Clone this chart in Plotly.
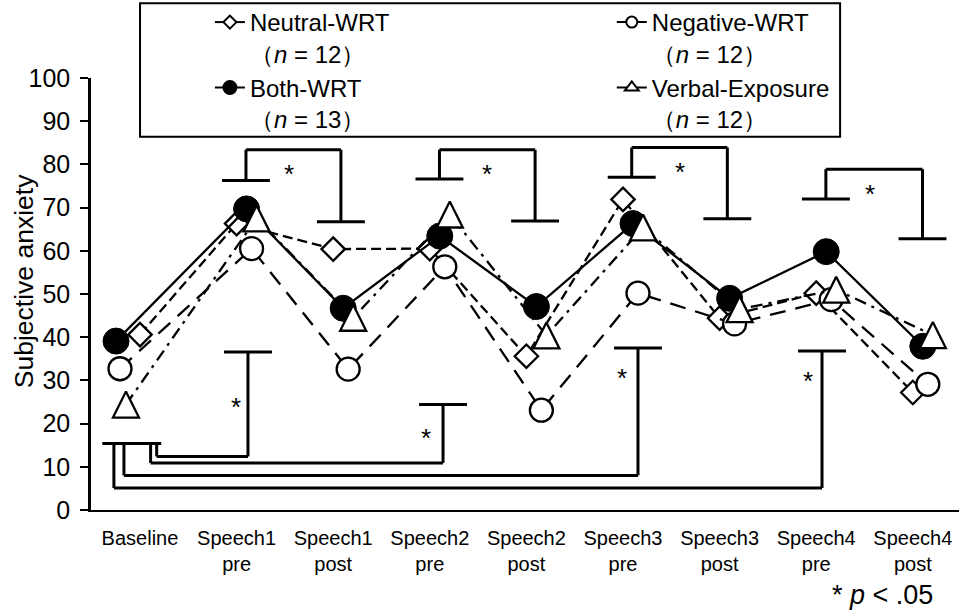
import plotly.graph_objects as go

# ---- data -------------------------------------------------------------
categories = ["Baseline", "Speech1<br>pre", "Speech1<br>post", "Speech2<br>pre",
              "Speech2<br>post", "Speech3<br>pre", "Speech3<br>post",
              "Speech4<br>pre", "Speech4<br>post"]

neutral_wrt = [40.6, 66.3, 60.4, 60.5, 35.6, 71.9, 44.4, 50.2, 27.2]
negative_wrt = [32.7, 60.5, 32.6, 56.3, 23.1, 50.2, 43.1, 48.7, 29.1]
both_wrt = [39.1, 69.7, 46.7, 63.4, 47.1, 66.3, 49.0, 59.8, 37.9]
verbal_exposure = [24.4, 67.5, 44.5, 68.4, 40.4, 65.4, 46.5, 51.0, 40.5]

series_names = ["Neutral-WRT", "Negative-WRT", "Both-WRT", "Verbal-Exposure"]
group_n = [12, 12, 13, 12]
series_values = [neutral_wrt, negative_wrt, both_wrt, verbal_exposure]

y_ticks = [0, 10, 20, 30, 40, 50, 60, 70, 80, 90, 100]

# ---- styles -----------------------------------------------------------
FONT = "Liberation Sans, Arial, sans-serif"
LW = 2.3
styles = [
    dict(dash="10px,5px", symbol="diamond", size=18, fill="white",
         base_off=0.0, off=0.0, leg_symbol="diamond", leg_size=10, legend="legend"),
    dict(dash="16px,10px", symbol="circle", size=23, fill="white",
         base_off=-0.207, off=0.155, leg_symbol="circle", leg_size=11, legend="legend2"),
    dict(dash="solid", symbol="circle", size=26, fill="black",
         base_off=-0.248, off=0.1035, leg_symbol="circle", leg_size=13, legend="legend"),
    dict(dash="12px,6px,3px,6px", symbol="arrow-down", size=26, fill="white",
         base_off=-0.145, off=0.207, leg_symbol="triangle-up", leg_size=12, legend="legend2"),
]

fig = go.Figure()

for name, n, vals, st in zip(series_names, group_n, series_values, styles):
    xs = [i + (st["base_off"] if i == 0 else st["off"]) for i in range(len(vals))]
    marker = dict(symbol=st["symbol"], size=st["size"], color=st["fill"],
                  line=dict(color="black", width=LW if st["fill"] == "white" else 1))
    if st["symbol"] == "arrow-down":
        # rotated arrow head, shifted so it is centred on the value
        marker.update(angle=180, standoff=st["size"] / 2)
    fig.add_trace(go.Scatter(
        x=xs, y=vals, mode="lines+markers", name=name, showlegend=False,
        line=dict(color="black", width=LW, dash=st["dash"]),
        marker=marker, cliponaxis=False,
    ))

# legend keys (two columns: Neutral / Both and Negative / Verbal)
for key in (0, 2, 1, 3):
    name, n, st = series_names[key], group_n[key], styles[key]
    fig.add_trace(go.Scatter(
        x=[None], y=[None], mode="lines+markers", legend=st["legend"],
        name=f"{name}<br>（<i>n</i> = {n}）",
        line=dict(color="black", width=2),
        marker=dict(symbol=st["leg_symbol"], size=st["leg_size"], color=st["fill"],
                    line=dict(color="black", width=2)),
    ))

# ---- significance brackets -------------------------------------------
shapes = []
annotations = []
BW = 3
CAP = 0.248


def seg(x0, y0, x1, y1):
    shapes.append(dict(type="line", xref="x", yref="y", x0=x0, y0=y0, x1=x1, y1=y1,
                       line=dict(color="black", width=BW)))


def star(x, y):
    annotations.append(dict(x=x, y=y, xref="x", yref="y", text="*", showarrow=False,
                            yshift=-7, font=dict(family=FONT, size=26, color="black")))


# pre vs post comparisons (above the lines)
top_brackets = [
    # x_pre, x_post, cap_pre, top, cap_post, star_x, star_y
    (1.097, 2.08, 76.3, 83.4, 66.7, 1.54, 79.5),
    (3.10, 4.09, 76.6, 83.4, 66.9, 3.59, 79.3),
    (5.09, 6.08, 77.0, 83.9, 67.4, 5.59, 79.8),
    (7.10, 8.10, 72.0, 78.9, 62.8, 7.56, 74.7),
]
for xa, xb, ha, top, hb, sx, sy in top_brackets:
    seg(xa - CAP, ha, xa + CAP, ha)
    seg(xa, ha, xa, top)
    seg(xa, top, xb, top)
    seg(xb, top, xb, hb)
    seg(xb - CAP, hb, xb + CAP, hb)
    star(sx, sy)

# baseline vs each pre-speech rating (below the lines)
base_cap = 15.4
seg(-0.39, base_cap, 0.22, base_cap)
bottom_brackets = [
    # x_start, level, x_pre, cap, star_x, star_y
    (0.173, 12.4, 1.118, 36.6, 0.99, 25.5),
    (0.110, 10.9, 3.137, 24.4, 2.96, 18.4),
    (-0.166, 8.0, 5.155, 37.5, 4.99, 32.2),
    (-0.270, 5.1, 7.06, 36.8, 6.92, 31.5),
]
for xs0, lvl, xp, cap, sx, sy in bottom_brackets:
    seg(xs0, base_cap, xs0, lvl)
    seg(xs0, lvl, xp, lvl)
    seg(xp, lvl, xp, cap)
    seg(xp - CAP, cap, xp + CAP, cap)
    star(sx, sy)

# legend frame
shapes.append(dict(type="rect", xref="paper", yref="paper",
                   x0=0.0565, x1=0.863, y0=0.864, y1=1.173,
                   line=dict(color="black", width=2), fillcolor="rgba(0,0,0,0)"))

# y-axis title
annotations.append(dict(x=-0.077, y=53, xref="paper", yref="y", text="Subjective anxiety",
                        textangle=-90, showarrow=False, xanchor="center", yanchor="middle",
                        font=dict(family=FONT, size=26.5, color="black")))

# significance note
annotations.append(dict(x=0.972, y=-0.196, xref="paper", yref="paper",
                        text="* <i>p</i> < .05", showarrow=False,
                        xanchor="right", yanchor="middle",
                        font=dict(family=FONT, size=27, color="black")))

legend_common = dict(orientation="v", y=1.181, xanchor="left", yanchor="top",
                     valign="top", tracegroupgap=0,
                     font=dict(family=FONT, size=24, color="black"),
                     bgcolor="rgba(0,0,0,0)", borderwidth=0, itemwidth=30)

fig.update_layout(
    width=959, height=614,
    margin=dict(l=91, r=0, t=76, b=104),
    plot_bgcolor="white", paper_bgcolor="white",
    font=dict(family=FONT, color="black"),
    shapes=shapes, annotations=annotations,
    showlegend=True,
    legend=dict(x=0.137, **legend_common),
    legend2=dict(x=0.600, **legend_common),
    xaxis=dict(range=[-0.507, 8.478], tickvals=list(range(len(categories))),
               ticktext=categories, showline=True, linecolor="black", linewidth=2,
               ticks="", showgrid=False, zeroline=False, ticklabelstandoff=9,
               tickfont=dict(family=FONT, size=20, color="black")),
    yaxis=dict(range=[0, 100], tickvals=y_ticks, showline=True, linecolor="black",
               linewidth=2.5, ticks="outside", ticklen=8, tickwidth=2, tickcolor="black",
               showgrid=False, zeroline=False, ticklabelstandoff=5,
               tickfont=dict(family=FONT, size=25, color="black")),
)

fig.write_html("out.html")
